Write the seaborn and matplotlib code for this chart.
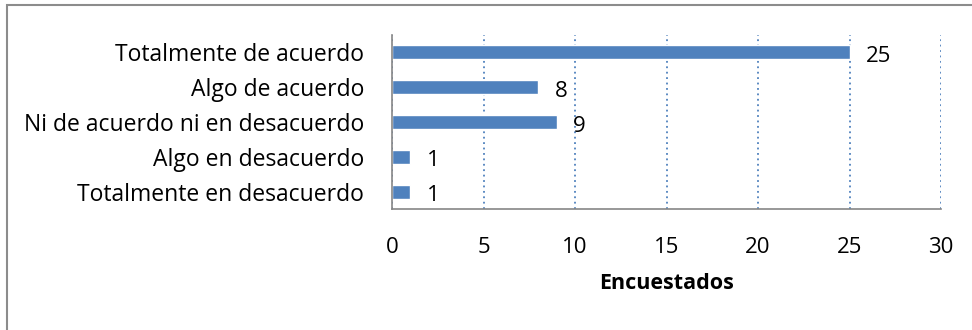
import matplotlib
matplotlib.use("Agg")
import matplotlib.pyplot as plt
import seaborn as sns
import pandas as pd
from matplotlib.patches import Rectangle

categories = [
    "Totalmente de acuerdo",
    "Algo de acuerdo",
    "Ni de acuerdo ni en desacuerdo",
    "Algo en desacuerdo",
    "Totalmente en desacuerdo",
]
counts = [25, 8, 9, 1, 1]
x_ticks = [0, 5, 10, 15, 20, 25, 30]

df = pd.DataFrame({"categoria": categories, "encuestados": counts})

sns.set_theme(style="white")
plt.rcParams["font.family"] = ["Open Sans", "DejaVu Sans"]

fig = plt.figure(figsize=(9.72, 3.30), dpi=100)
ax = fig.add_axes([392 / 972, 1 - 209 / 330, (941 - 392) / 972, (209 - 35) / 330])

bar_color = "#4F81BD"
sns.barplot(data=df, x="encuestados", y="categoria", order=categories,
            color=bar_color, width=0.4, orient="h", ax=ax, saturation=1)

ax.set_xlim(0, 30)
ax.set_ylim(len(categories) - 0.5, -0.5)
ax.set_xticks(x_ticks)
ax.set_xticklabels([str(t) for t in x_ticks], fontsize=16)
ax.tick_params(axis="x", length=0, pad=20)
ax.tick_params(axis="y", length=0, pad=20, labelsize=16.5)
for lab in ax.get_yticklabels():
    lab.set_color("black")
for lab in ax.get_xticklabels():
    lab.set_color("black")

ax.xaxis.grid(True, linestyle=(0, (1, 2)), color=bar_color, linewidth=1.3)
ax.set_axisbelow(True)

for side in ["top", "right"]:
    ax.spines[side].set_visible(False)
for side in ["left", "bottom"]:
    ax.spines[side].set_color("#868686")
    ax.spines[side].set_linewidth(1.2)

ax.set_ylabel("")
ax.set_xlabel("Encuestados", fontsize=15.5, fontweight="bold", labelpad=11, color="black")

for i, v in enumerate(counts):
    ax.annotate(str(v), xy=(v, i), xytext=(12, -3), textcoords="offset points",
                ha="left", va="center", fontsize=16, color="black")

# Outer chart frame (left and top edges visible)
fig.patches.append(Rectangle((7 / 972, -0.1), 1.2, 1 - 5 / 330 + 0.1,
                             transform=fig.transFigure, fill=False,
                             edgecolor="#8C8C8C", linewidth=1.5))

fig.savefig("out.png", dpi=100)
